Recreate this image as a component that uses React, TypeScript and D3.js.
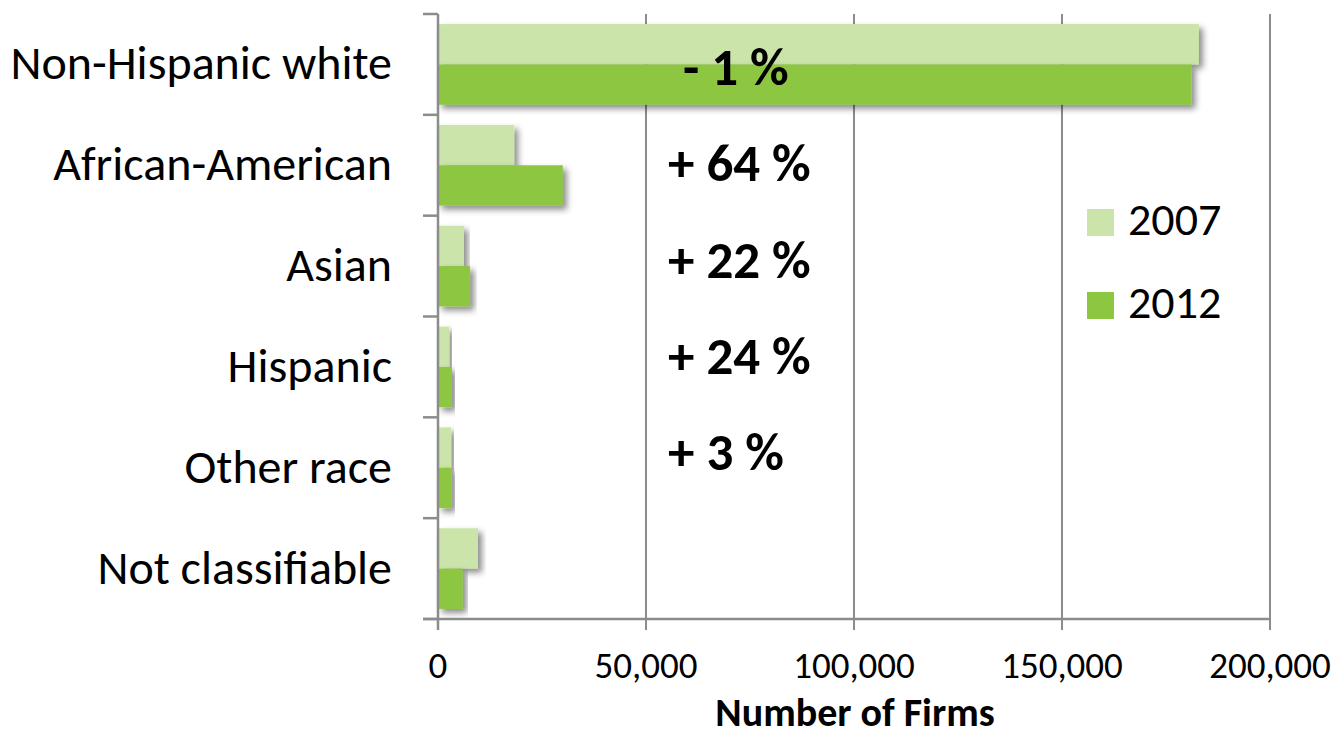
import React from "react";
import * as d3 from "d3";

const categories = ["Non-Hispanic white", "African-American", "Asian", "Hispanic", "Other race", "Not classifiable"];
const years = ["2007", "2012"];
const firms2007 = [182900, 18300, 6250, 2700, 3150, 9600];
const firms2012 = [181100, 30000, 7700, 3350, 3300, 5950];
const changeLabels = ["- 1 %", "+ 64 %", "+ 22 %", "+ 24 %", "+ 3 %"];
const xTicks = [0, 50000, 100000, 150000, 200000];
const xTitle = "Number of Firms";

const colors: Record<string, string> = { "2007": "#cbe4aa", "2012": "#8dc641" };
const FONT = "Carlito, Lato, 'Open Sans', sans-serif";

export default function App() {
  const W = 1338, H = 739;
  const x = d3.scaleLinear().domain([0, 200000]).range([438, 1270]);
  const y = d3.scaleBand<string>().domain(categories).range([14, 619]).padding(0);
  const bw = y.bandwidth();
  const inner = d3.scaleBand<string>().domain(years).range([bw * 0.1, bw * 0.9]).padding(0);
  const labelY = d3.scaleLinear().domain([0, changeLabels.length - 1]).range([85, 470]);
  const values: Record<string, number[]> = { "2007": firms2007, "2012": firms2012 };
  const axisColor = "#8c8c8c";
  const bottom = y.range()[1];
  const top = y.range()[0];
  const boundaries = [...categories.map((c) => y(c) as number), bottom];

  return (
    <svg width={W} height={H} style={{ position: "absolute", left: 0, top: 0, background: "#fff" }} fontFamily={FONT}>
      <defs>
        <filter id="shadow" x="-10%" y="-30%" width="130%" height="180%">
          <feDropShadow dx="4" dy="4" stdDeviation="3" floodColor="#000" floodOpacity="0.45" />
        </filter>
      </defs>
      {/* gridlines */}
      {xTicks.slice(1).map((t) => (
        <line key={"g" + t} x1={x(t)} x2={x(t)} y1={top} y2={bottom + 11} stroke={axisColor} strokeWidth={2} />
      ))}
      {/* bars */}
      {categories.map((c, i) => (
        <g key={c} transform={`translate(0,${y(c)})`}>
          {years.map((yr) => (
            <rect
              key={yr}
              x={x(0)}
              y={inner(yr)}
              width={x(values[yr][i]) - x(0)}
              height={inner.bandwidth()}
              fill={colors[yr]}
              filter="url(#shadow)"
            />
          ))}
        </g>
      ))}
      {/* axes */}
      <line x1={x(0)} x2={x(0)} y1={top} y2={bottom + 11} stroke={axisColor} strokeWidth={2.5} />
      <line x1={x(0) - 15} x2={x(200000)} y1={bottom} y2={bottom} stroke={axisColor} strokeWidth={2.5} />
      {boundaries.map((b, i) => (
        <line key={"t" + i} x1={x(0) - 15} x2={x(0)} y1={b} y2={b} stroke={axisColor} strokeWidth={2.5} />
      ))}
      {/* category labels */}
      {categories.map((c) => (
        <text key={"l" + c} x={392} y={(y(c) as number) + bw / 2 + 15} textAnchor="end" fontSize={48} fill="#000">
          {c}
        </text>
      ))}
      {/* x tick labels */}
      {xTicks.map((t) => (
        <text key={"x" + t} x={x(t)} y={678} textAnchor="middle" fontSize={37} fill="#000">
          {d3.format(",")(t)}
        </text>
      ))}
      <text x={855} y={726} textAnchor="middle" fontSize={40} fontWeight="bold" fill="#000">
        {xTitle}
      </text>
      {/* change labels */}
      {changeLabels.map((l, i) => (
        <text key={"c" + i} x={i === 0 ? 683 : 668} y={labelY(i)} fontSize={53} fontWeight="bold" fill="#000">
          {l}
        </text>
      ))}
      {/* legend */}
      {years.map((yr, i) => (
        <g key={"lg" + yr} transform={`translate(1087,${209 + i * 83})`}>
          <rect x={0} y={0} width={27} height={27} fill={colors[yr]} />
          <text x={41} y={26} fontSize={46} fill="#000">
            {yr}
          </text>
        </g>
      ))}
    </svg>
  );
}
